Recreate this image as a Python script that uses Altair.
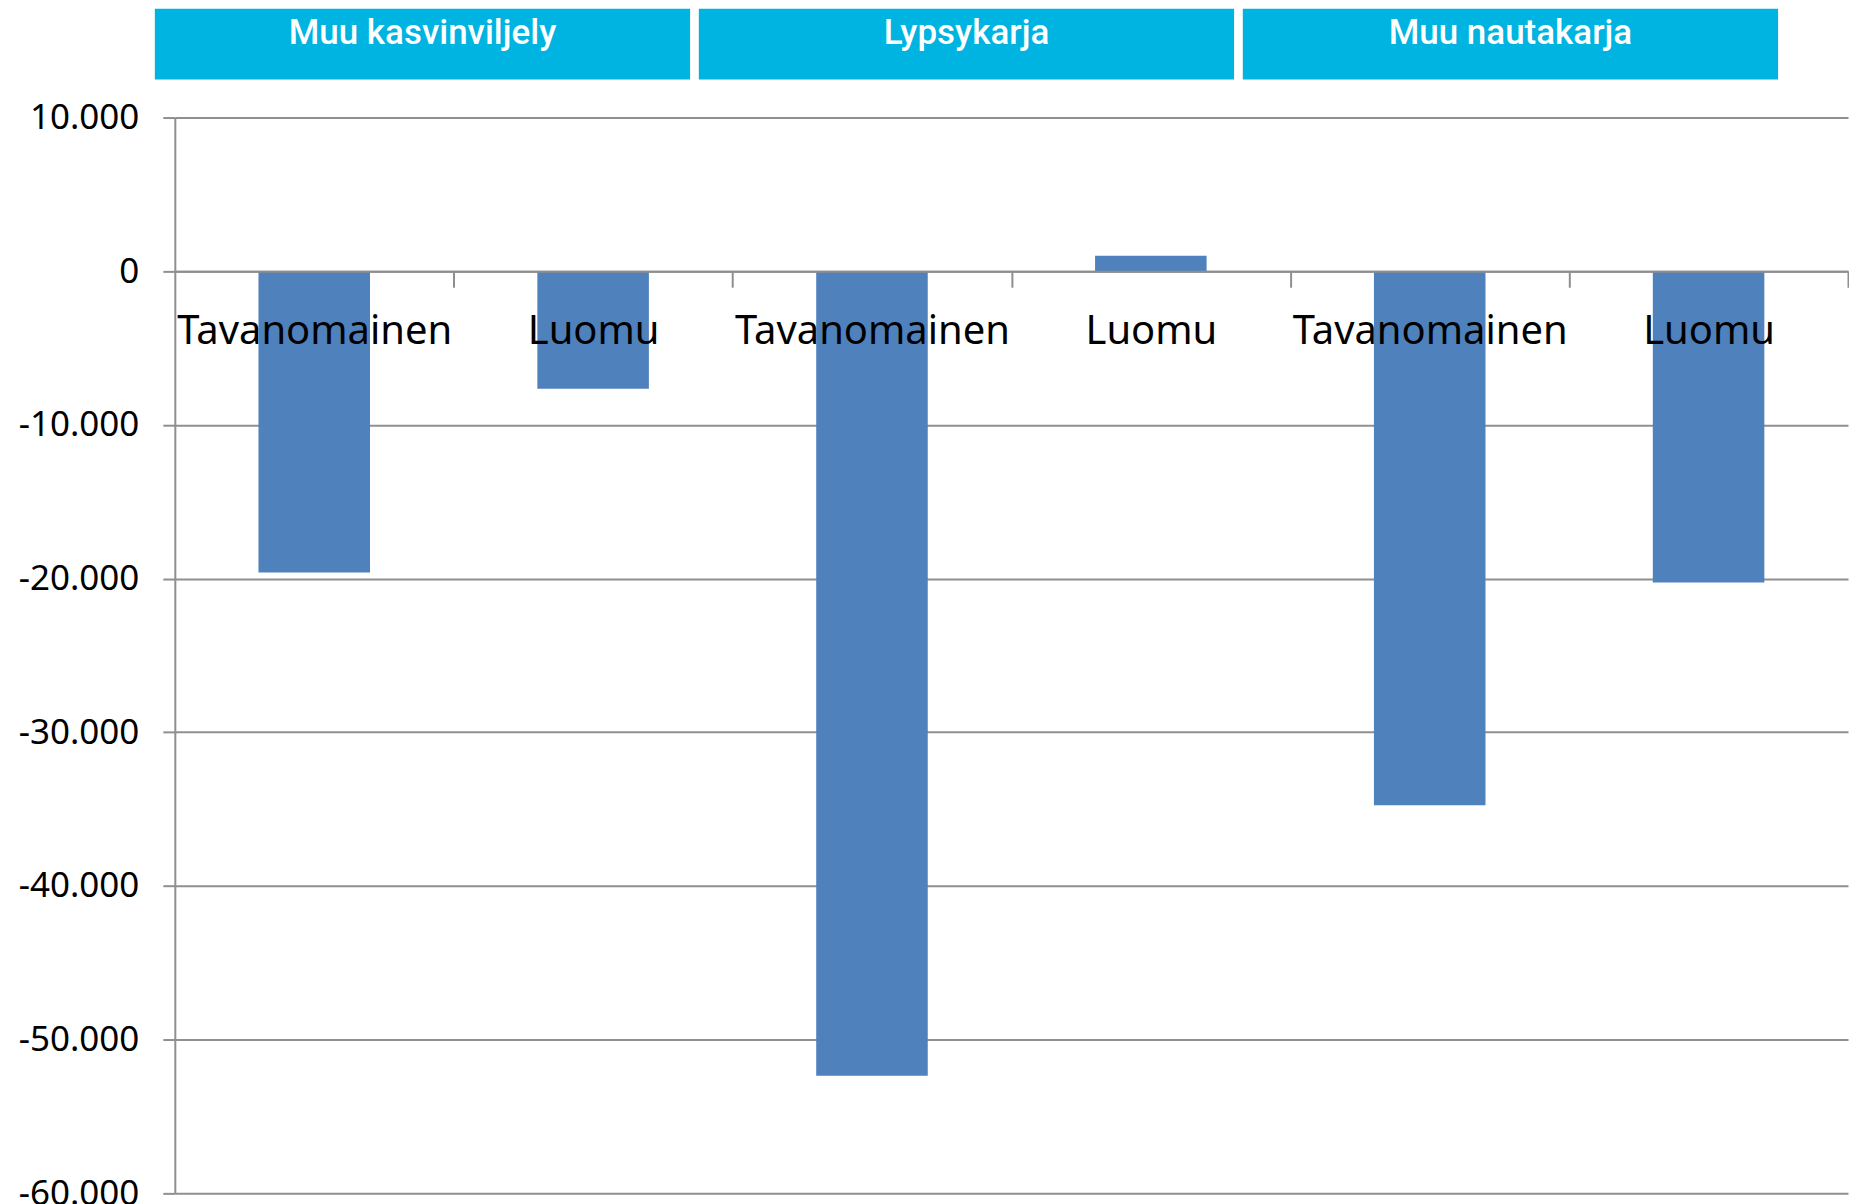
import altair as alt
import pandas as pd

groups = ["Muu kasvinviljely", "Lypsykarja", "Muu nautakarja"]
types = ["Tavanomainen", "Luomu"]
values = [-19600, -7650, -52350, 1000, -34750, -20250]
y_ticks = [10000, 0, -10000, -20000, -30000, -40000, -50000, -60000]
y_min, y_max = -60000, 10000

rows = []
i = 0
for g in groups:
    for t in types:
        rows.append({"key": f"{g}|{t}", "group": g, "type": t, "value": values[i]})
        i += 1
df = pd.DataFrame(rows)
keys = list(df["key"])

W, H = 1675, 1077
GRAY = "#8F8F8F"
zero_offset = -H * (0 - y_min) / (y_max - y_min)
half_step = W / len(keys) / 2

bars = alt.Chart(df).mark_bar(color="#4F81BD").encode(
    x=alt.X(
        "key:N",
        sort=keys,
        scale=alt.Scale(paddingInner=0.6, paddingOuter=0.3),
        axis=alt.Axis(
            title=None,
            orient="bottom",
            offset=zero_offset,
            labelExpr="split(datum.label, '|')[1]",
            labelFont="Noto Sans",
            labelFontSize=40,
            labelColor="black",
            labelPadding=24,
            labelAngle=0,
            labelLimit=0,
            labelOverlap=False,
            labelOffset=-half_step,
            tickOffset=half_step,
            tickSize=16,
            tickColor=GRAY,
            tickWidth=2,
            domain=True,
            domainColor=GRAY,
            domainWidth=2,
            grid=False,
            zindex=1,
        ),
    ),
    y=alt.Y(
        "value:Q",
        scale=alt.Scale(domain=[y_min, y_max], nice=False),
        axis=alt.Axis(
            title=None,
            values=y_ticks,
            labelExpr="datum.value == 0 ? '0' : (datum.value < 0 ? '-' : '') + format(abs(datum.value) / 1000, 'd') + '.000'",
            labelFont="Noto Sans",
            labelFontSize=35,
            labelColor="black",
            labelPadding=24,
            tickSize=12,
            tickColor=GRAY,
            tickWidth=2,
            domainColor=GRAY,
            domainWidth=2,
            gridColor=GRAY,
            gridWidth=2,
        ),
    ),
).properties(width=W, height=H)

hdf = pd.DataFrame({"group": groups})
hx = alt.X(
    "group:N",
    sort=groups,
    scale=alt.Scale(range=[-20, 1605], paddingInner=0.016, paddingOuter=0),
    axis=None,
)
header_rect = alt.Chart(hdf).mark_rect(color="#00B4E1").encode(x=hx)
header_text = alt.Chart(hdf).mark_text(
    font="Roboto",
    fontSize=35,
    fontWeight=500,
    color="white",
    baseline="alphabetic",
    align="center",
).encode(x=hx, y=alt.value(35), text="group:N")
header = alt.layer(header_rect, header_text).properties(width=W, height=71)

chart = (
    alt.vconcat(header, bars, spacing=38, bounds="flush")
    .properties(padding={"left": 10, "top": 0, "right": 0, "bottom": 0}, background="white")
    .configure_view(stroke=None)
)

chart.save("out.html", embed_options={"renderer": "svg", "actions": False})
